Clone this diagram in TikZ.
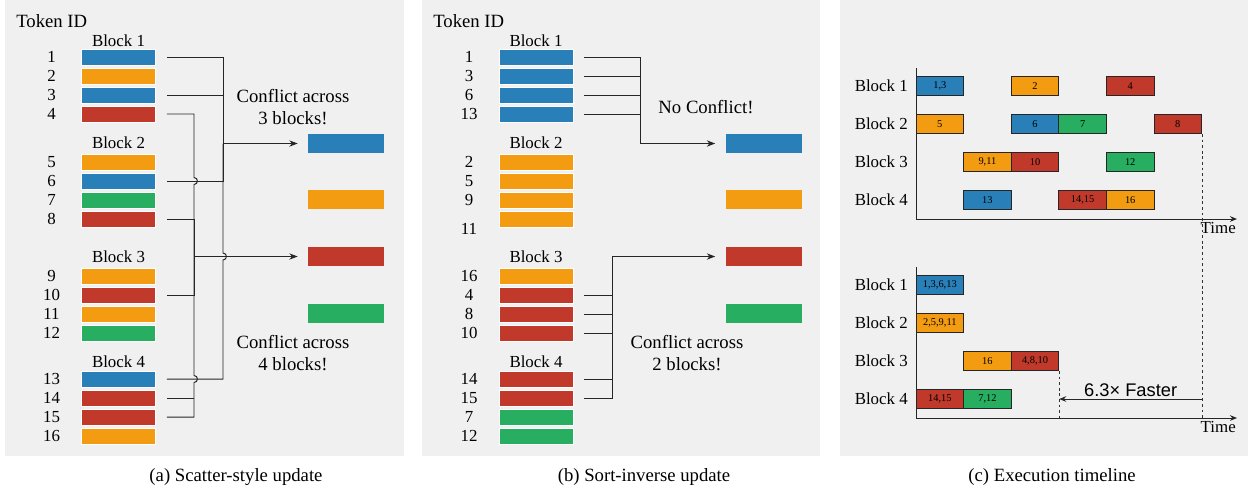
\documentclass[tikz,border=0pt]{standalone}
\usepackage{fontspec}
\setmainfont{Liberation Serif}
\newfontfamily\lsans{Liberation Sans}
\usetikzlibrary{arrows.meta, calc, positioning}
\definecolor{cBlue}{RGB}{41,128,185}
\definecolor{cOrange}{RGB}{243,156,18}
\definecolor{cRed}{RGB}{192,57,43}
\definecolor{cGreen}{RGB}{39,174,96}
\definecolor{cPanel}{RGB}{240,240,240}
\tikzset{
    panel/.style   ={fill=cPanel, draw=none},
    bar/.style     ={rectangle, minimum width=1.85cm, minimum height=0.4cm, inner sep=0pt, draw=white, line width=0.4pt},
    target/.style  ={rectangle, minimum width=1.9cm, minimum height=0.475cm, inner sep=0pt},
    tid/.style     ={inner sep=0pt},
    big/.style     ={font=\fontsize{13.3}{15.6}\selectfont},
    note/.style    ={big, align=center, inner sep=0pt},
    wire/.style    ={draw=black!85, line width=0.7pt},
    arr/.style     ={-{Stealth[length=6pt, width=4.5pt]}},
    slot/.style    ={rectangle, draw=black!85, line width=0.6pt, minimum width=1.19cm, minimum height=0.475cm, inner sep=0pt, font=\fontsize{7.4}{8}\selectfont},
    axis/.style    ={draw=black!85, line width=0.7pt, -{Stealth[length=5pt, width=4pt]}},
    guide/.style   ={draw=black!80, line width=0.6pt, dash pattern=on 2pt off 2pt},
    fastarrow/.style={draw=black!85, line width=0.6pt, -{Stealth[length=5pt, width=4pt]}},
}

\begin{document}
\begin{tikzpicture}[x=0.025cm, y=-0.025cm, every node/.style={font=\fontsize{12}{14}\selectfont}]
    \useasboundingbox (0,0) rectangle (1248,489);
    % panels
    \fill[panel] (5,0) rectangle (403.7,455.7);
    \fill[panel] (422,0) rectangle (820,455.7);
    \fill[panel] (840,0) rectangle (1248,455.7);

    % ---------- (a) scatter-style ----------
    \node[big, anchor=west, inner sep=0pt] (tokA) at (16,21) {Token ID};
    \foreach \y/\n/\c in {57/1/cBlue, 76/2/cOrange, 95/3/cBlue, 114/4/cRed,
                          162/5/cOrange, 181/6/cBlue, 200/7/cGreen, 219/8/cRed,
                          276/9/cOrange, 295/10/cRed, 314/11/cOrange, 333/12/cGreen,
                          379/13/cBlue, 398/14/cRed, 417/15/cRed, 436/16/cOrange} {
        \node[tid] (na\n) at (51.5,\y) {\n};
        \node[bar, fill=\c] (a\n) at (118.5,\y) {};
    }
    \foreach \y/\k in {41/1, 143/2, 257/3, 362/4}
        \node[tid] (blkA\k) at (118.5,\y) {Block \k};

    \node[target, fill=cBlue]   (ta1) at (346,143.5) {};
    \node[target, fill=cOrange] (ta2) at (346,199.5) {};
    \node[target, fill=cRed]    (ta3) at (346,256.5) {};
    \node[target, fill=cGreen]  (ta4) at (346,313.5) {};

    \coordinate (busA1) at (223,143.5);
    \coordinate (busA3) at (194,256.5);
    % blue writes
    \foreach \n in {1,3,6}
        \draw[wire] ($(a\n.east)+(11,0)$) -| (busA1);
    \draw[wire] ($(a13.east)+(11,0)$) -- (busA1 |- a13) -- ($(busA1 |- busA3)+(0,3.5)$)
        .. controls +(4.5,0) and +(4.5,0) .. ($(busA1 |- busA3)+(0,-3.5)$) -- (busA1);
    % red writes
    \foreach \n in {8,10}
        \draw[wire] ($(a\n.east)+(11,0)$) -| (busA3);
    \draw[wire] ($(a14.east)+(11,0)$) -- (busA3 |- a14);
    \draw[wire] ($(a4.east)+(11,0)$) -- (busA3 |- a4) -- ($(busA3 |- a6)+(0,-3.5)$)
        .. controls +(4.5,0) and +(4.5,0) .. ($(busA3 |- a6)+(0,3.5)$) -- (busA3);
    \draw[wire] ($(a15.east)+(11,0)$) -- (busA3 |- a15) -- ($(busA3 |- a13)+(0,3.5)$)
        .. controls +(4.5,0) and +(4.5,0) .. ($(busA3 |- a13)+(0,-3.5)$) -- (busA3);
    \draw[wire, arr] (busA1) -- ($(ta1.west)+(-10,0)$);
    \draw[wire, arr] (busA3) -- ($(ta3.west)+(-10,0)$);

    \node[note] (confA1) at (293,107) {Conflict across\\3 blocks!};
    \node[note] (confA2) at (293,353) {Conflict across\\4 blocks!};
    \node[big] (capA) at (236,477) {(a) Scatter-style update};

    % ---------- (b) sort-inverse ----------
    \node[big, anchor=west, inner sep=0pt] (tokB) at (433,21) {Token ID};
    \foreach \y/\n/\c/\dy in {57/1/cBlue/0, 76/3/cBlue/0, 95/6/cBlue/0, 114/13/cBlue/0,
                              162/2/cOrange/0, 181/5/cOrange/0, 200/9/cOrange/0, 219/11/cOrange/10,
                              276/16/cOrange/0, 295/4/cRed/0, 314/8/cRed/0, 333/10/cRed/0,
                              379/14/cRed/0, 398/15/cRed/0, 417/7/cGreen/0, 436/12/cGreen/0} {
        \node[tid] (nb\n) at (469,{\y+\dy}) {\n};
        \node[bar, fill=\c] (b\n) at (536,\y) {};
    }
    \foreach \y/\k in {41/1, 143/2, 257/3, 362/4}
        \node[tid] (blkB\k) at (536,\y) {Block \k};

    \node[target, fill=cBlue]   (tb1) at (763.5,143.5) {};
    \node[target, fill=cOrange] (tb2) at (763.5,199.5) {};
    \node[target, fill=cRed]    (tb3) at (763.5,256.5) {};
    \node[target, fill=cGreen]  (tb4) at (763.5,313.5) {};

    \coordinate (busB1) at (640,143.5);
    \coordinate (busB3) at (612,256.5);
    \foreach \n in {1,3,6,13}
        \draw[wire] ($(b\n.east)+(11,0)$) -| (busB1);
    \foreach \n in {4,8,10,14,15}
        \draw[wire] ($(b\n.east)+(11,0)$) -| (busB3);
    \draw[wire, arr] (busB1) -- ($(tb1.west)+(-10,0)$);
    \draw[wire, arr] (busB3) -- ($(tb3.west)+(-10,0)$);

    \node[note] (noconf) at (706,107) {No Conflict!};
    \node[note] (confB) at (687,353) {Conflict across\\2 blocks!};
    \node[big] (capB) at (644,477) {(b) Sort-inverse update};

    % ---------- (c) execution timeline ----------
    % scatter-style schedule
    \coordinate (yT) at (916,68);
    \coordinate (oT) at (916,219);
    \coordinate (xT) at (1237,219);
    \draw[axis] (yT) -- (oT) -- (xT);
    \node[anchor=north east, inner sep=0pt] (timeT) at (1236,222) {Time};
    \foreach \r in {1,...,4}
        \node[anchor=east, inner sep=0pt] (rowT\r) at (908,{48+38*\r}) {Block \r};
    \foreach \r/\s/\c/\l in {1/0/cBlue/{1,3}, 1/2/cOrange/2, 1/4/cRed/4,
                             2/0/cOrange/5, 2/2/cBlue/6, 2/3/cGreen/7, 2/5/cRed/8,
                             3/1/cOrange/{9,11}, 3/2/cRed/10, 3/4/cGreen/12,
                             4/1/cBlue/13, 4/3/cRed/{14,15}, 4/4/cOrange/16}
        \node[slot, fill=\c] (pT\r-\s) at ({916+47.6*(\s+0.5)},{48+38*\r}) {\l};

    % sort-inverse schedule
    \coordinate (yB) at (916,267);
    \coordinate (oB) at (916,418);
    \coordinate (xB) at (1237,418);
    \draw[axis] (yB) -- (oB) -- (xB);
    \node[anchor=north east, inner sep=0pt] (timeB) at (1236,421) {Time};
    \foreach \r in {1,...,4}
        \node[anchor=east, inner sep=0pt] (rowB\r) at (908,{247+38*\r}) {Block \r};
    \foreach \r/\s/\c/\l in {1/0/cBlue/{1,3,6,13}, 2/0/cOrange/{2,5,9,11},
                             3/1/cOrange/16, 3/2/cRed/{4,8,10},
                             4/0/cRed/{14,15}, 4/1/cGreen/{7,12}}
        \node[slot, fill=\c] (pB\r-\s) at ({916+47.6*(\s+0.5)},{247+38*\r}) {\l};

    % finish lines and speed-up
    \draw[guide] (pT2-5.south east) -- (pT2-5.south east |- oB);
    \draw[guide] (pB3-2.south east) -- (pB3-2.south east |- oB);
    \draw[fastarrow] (pT2-5.south east |- pB4-0) -- (pB3-2.south east |- pB4-0)
        node[midway, above=1.5pt, inner sep=0pt, font=\lsans\fontsize{13}{15}\selectfont] (fast) {6.3× Faster};
    \node[big] (capC) at (1052,477) {(c) Execution timeline};
\end{tikzpicture}
\end{document}
